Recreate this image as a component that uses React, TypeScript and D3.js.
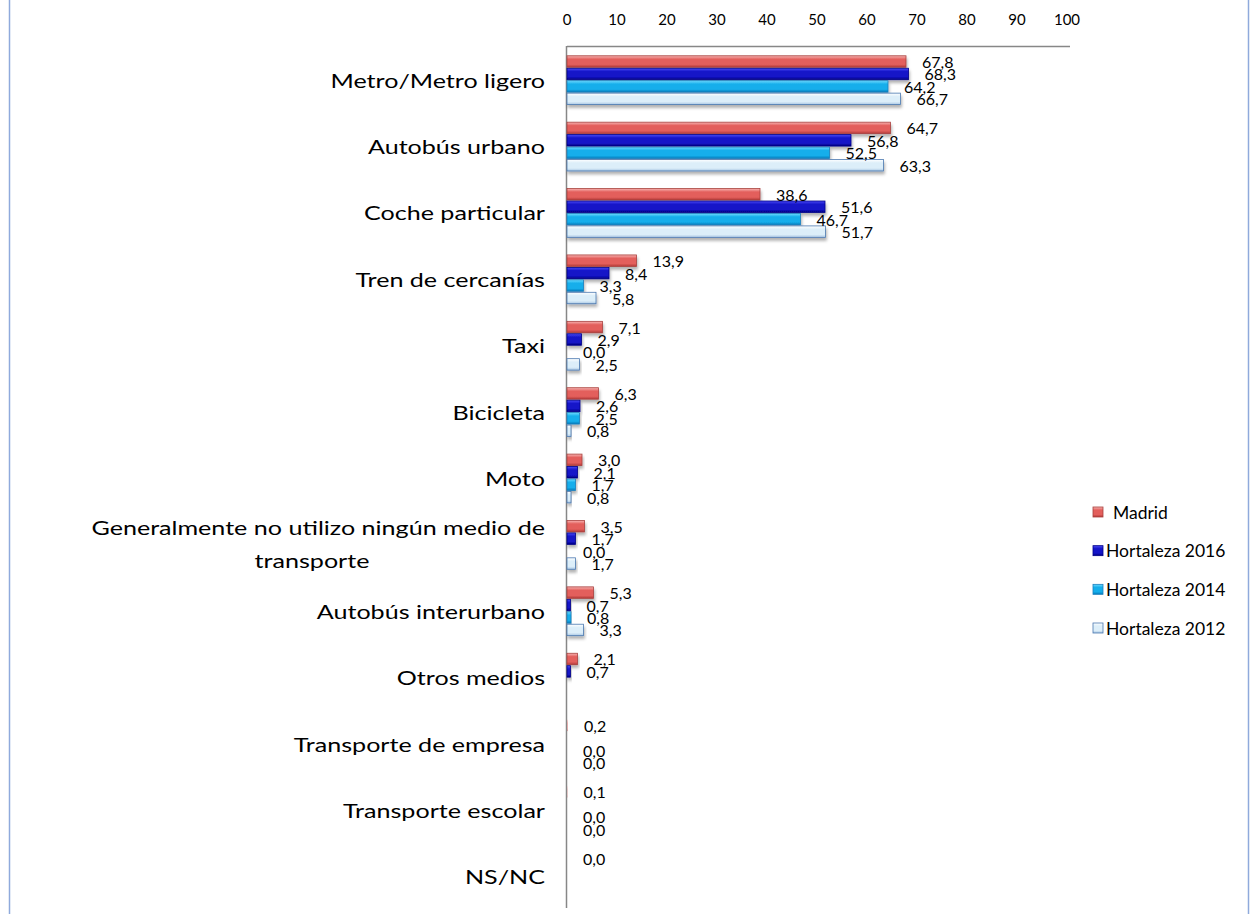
import React from "react";
import * as d3 from "d3";

const categories = [
  "Metro/Metro ligero",
  "Autobús urbano",
  "Coche particular",
  "Tren de cercanías",
  "Taxi",
  "Bicicleta",
  "Moto",
  "Generalmente no utilizo ningún medio de|transporte",
  "Autobús interurbano",
  "Otros medios",
  "Transporte de empresa",
  "Transporte escolar",
  "NS/NC",
];
const seriesNames = ["Madrid", "Hortaleza 2016", "Hortaleza 2014", "Hortaleza 2012"];
const madrid = [67.8, 64.7, 38.6, 13.9, 7.1, 6.3, 3.0, 3.5, 5.3, 2.1, 0.2, 0.1, 0.0];
const hortaleza2016 = [68.3, 56.8, 51.6, 8.4, 2.9, 2.6, 2.1, 1.7, 0.7, 0.7, null, null, null];
const hortaleza2014 = [64.2, 52.5, 46.7, 3.3, 0.0, 2.5, 1.7, 0.0, 0.8, null, 0.0, 0.0, null];
const hortaleza2012 = [66.7, 63.3, 51.7, 5.8, 2.5, 0.8, 0.8, 1.7, 3.3, null, 0.0, 0.0, null];
const xTicks = [0, 10, 20, 30, 40, 50, 60, 70, 80, 90, 100];

const seriesValues: (number | null)[][] = [madrid, hortaleza2016, hortaleza2014, hortaleza2012];

const palette = [
  { id: "g0", top: "#F7B5B3", mid: "#E35F5C", bot: "#B23A38", stroke: "#A8403D" },
  { id: "g1", top: "#4B4BF5", mid: "#1414C8", bot: "#00007C", stroke: "#00008A" },
  { id: "g2", top: "#6FDBFF", mid: "#14AEEB", bot: "#0479B8", stroke: "#1A7FBE" },
  { id: "g3", top: "#FFFFFF", mid: "#DCEEF9", bot: "#A9C6E3", stroke: "#4A78B0" },
];

const FONT = "Lato, 'Open Sans', sans-serif";
const CAT_STRETCH = 1.255;

export default function App() {
  const x = d3.scaleLinear().domain([0, 100]).range([567, 1067]);
  const y = d3
    .scaleBand<string>()
    .domain(categories)
    .range([46, 911])
    .paddingInner(0.25)
    .paddingOuter(0.14);
  const ys = d3
    .scaleBand<string>()
    .domain(seriesNames)
    .range([0, y.bandwidth()])
    .padding(0);

  const legendY = d3.scalePoint<string>().domain(seriesNames).range([512, 628]);

  return (
    <svg
      width={1254}
      height={914}
      style={{ position: "absolute", left: 0, top: 0, background: "#fff" }}
    >
      <defs>
        {palette.map((p) => (
          <linearGradient key={p.id} id={p.id} x1="0" y1="0" x2="0" y2="1">
            <stop offset="0" stopColor={p.top} />
            <stop offset="0.3" stopColor={p.mid} />
            <stop offset="0.75" stopColor={p.mid} />
            <stop offset="1" stopColor={p.bot} />
          </linearGradient>
        ))}
        <filter id="sh" x="-10%" y="-50%" width="130%" height="250%">
          <feDropShadow dx="1" dy="3" stdDeviation="1.6" floodColor="#000" floodOpacity="0.3" />
        </filter>
      </defs>

      {/* outer border */}
      <line x1={9.5} x2={9.5} y1={0} y2={914} stroke="#8FAADC" strokeWidth={1.5} />
      <line x1={1248.5} x2={1248.5} y1={0} y2={914} stroke="#8FAADC" strokeWidth={1.5} />

      {/* axes */}
      <line x1={x(0)} x2={x(100) + 3} y1={46.5} y2={46.5} stroke="#878787" strokeWidth={1.3} />
      <line x1={x(0) - 0.5} x2={x(0) - 0.5} y1={46} y2={908} stroke="#878787" strokeWidth={1.5} />
      {xTicks.map((t) => (
        <text
          key={t}
          x={x(t)}
          y={19}
          textAnchor="middle"
          dominantBaseline="central"
          fontFamily={FONT}
          fontSize={15}
          fill="#000"
        >
          {t}
        </text>
      ))}

      {/* category labels */}
      {categories.map((c) => {
        const cy = (y(c) as number) + y.bandwidth() / 2;
        const parts = c.split("|");
        if (parts.length === 1) {
          return (
            <text
              key={c}
              transform={`translate(545,${cy}) scale(${CAT_STRETCH},1)`}
              textAnchor="end"
              dominantBaseline="central"
              fontFamily={FONT}
              fontSize={20}
              fill="#000"
            >
              {c}
            </text>
          );
        }
        return (
          <g key={c}>
            <text
              transform={`translate(545,${cy - 17}) scale(${CAT_STRETCH},1)`}
              textAnchor="end"
              dominantBaseline="central"
              fontFamily={FONT}
              fontSize={20}
              fill="#000"
            >
              {parts[0]}
            </text>
            <text
              transform={`translate(312,${cy + 16}) scale(${CAT_STRETCH},1)`}
              textAnchor="middle"
              dominantBaseline="central"
              fontFamily={FONT}
              fontSize={20}
              fill="#000"
            >
              {parts[1]}
            </text>
          </g>
        );
      })}

      {/* bars */}
      {seriesValues.map((vals, si) =>
        vals.map((v, ci) => {
          if (v === null || v <= 0) return null;
          const by = (y(categories[ci]) as number) + (ys(seriesNames[si]) as number);
          const h = ys.bandwidth();
          const w = x(v) - x(0);
          const tiny = w < 2;
          return (
            <rect
              key={`b${si}-${ci}`}
              x={x(0)}
              y={by + 0.5}
              width={w}
              height={h - 1}
              fill={`url(#${palette[si].id})`}
              stroke={tiny ? "none" : palette[si].stroke}
              strokeWidth={0.8}
              filter={tiny ? undefined : "url(#sh)"}
              opacity={tiny ? 0.4 : 1}
            />
          );
        })
      )}

      {/* value labels */}
      {seriesValues.map((vals, si) =>
        vals.map((v, ci) => {
          if (v === null) return null;
          const by = (y(categories[ci]) as number) + (ys(seriesNames[si]) as number) + ys.bandwidth() / 2;
          return (
            <text
              key={`l${si}-${ci}`}
              x={x(v) + 16}
              y={by}
              dominantBaseline="central"
              fontFamily={FONT}
              fontSize={16}
              fill="#000"
            >
              {v.toFixed(1).replace(".", ",")}
            </text>
          );
        })
      )}

      {/* legend */}
      {seriesNames.map((s, si) => {
        const ly = legendY(s) as number;
        return (
          <g key={s}>
            <rect
              x={1093}
              y={ly - 5}
              width={10}
              height={10}
              fill={`url(#${palette[si].id})`}
              stroke={palette[si].stroke}
              strokeWidth={0.8}
            />
            <text
              x={si === 0 ? 1113 : 1106}
              y={ly}
              dominantBaseline="central"
              fontFamily={FONT}
              fontSize={17.5}
              fill="#000"
            >
              {s}
            </text>
          </g>
        );
      })}
    </svg>
  );
}
